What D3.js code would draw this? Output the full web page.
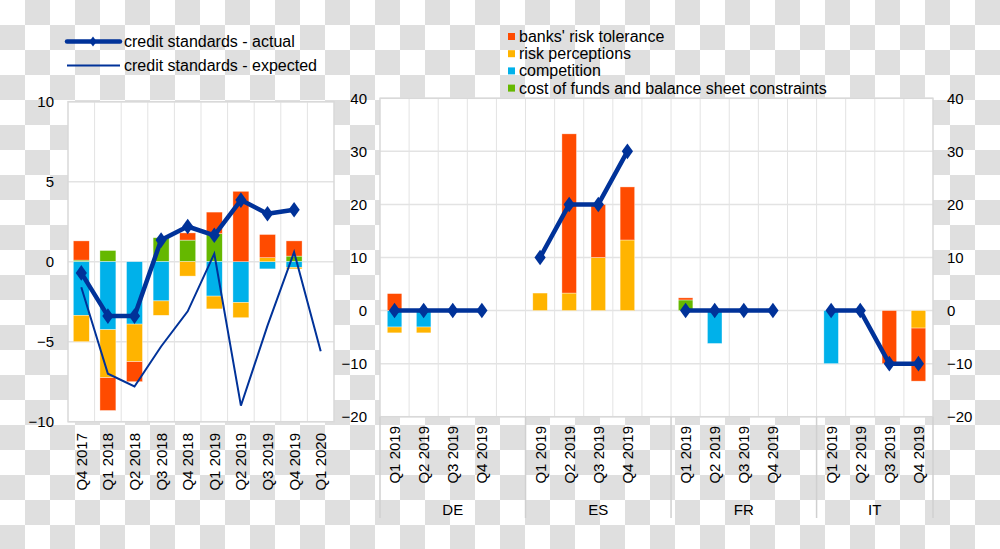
<!DOCTYPE html>
<html><head><meta charset="utf-8">
<script src="https://cdn.jsdelivr.net/npm/d3@7"></script>
<style>
html,body{margin:0;padding:0;background:#fff;}
svg{display:block;font-family:"Liberation Sans",Arial,sans-serif;}
</style></head>
<body>
<svg id="chart" width="1000" height="549"></svg>
<script>
// ---------- DATA ----------
const leftCategories = ["Q4 2017","Q1 2018","Q2 2018","Q3 2018","Q4 2018","Q1 2019","Q2 2019","Q3 2019","Q4 2019","Q1 2020"];
const leftRiskTolerance = [1.2, -2.05, -1.25, 0, 0.45, 1.35, 4.4, 1.45, 0.95, 0];
const leftRiskPerceptions = [-1.65, -3.0, -2.35, -0.9, -0.9, -0.8, -0.95, 0.25, -0.1, 0];
const leftCompetition = [-3.35, -4.25, -3.9, -2.45, 0, -2.15, -2.55, -0.45, -0.35, 0];
const leftCostOfFunds = [0.1, 0.7, 0, 1.5, 1.35, 1.75, 0, 0, 0.35, 0];
const leftActual = [-0.7, -3.4, -3.4, 1.35, 2.2, 1.65, 3.85, 3.0, 3.25, null];
const leftExpected = [-1.6, -7.0, -7.8, -5.3, -3.1, 0.5, -9.0, -4.0, 0.6, -5.6];
const leftTicks = [-10, -5, 0, 5, 10];

const countries = ["DE", "ES", "FR", "IT"];
const quarters = ["Q1 2019", "Q2 2019", "Q3 2019", "Q4 2019"];
// values ordered country by country, quarter by quarter
const rightRiskTolerance = [3.2, 0, 0, 0,   0, 30, 10, 10,   0.4, 0, 0, 0,   0, 0, -10, -10];
const rightRiskPerceptions = [-1.1, -1.1, 0, 0,   3.3, 3.3, 10, 13.3,   0, 0, 0, 0,   0, 0, 0, -3.3];
const rightCompetition = [-3.1, -3.1, 0, 0,   0, 0, 0, 0,   0, -6.2, 0, 0,   -10, 0, 0, 0];
const rightCostOfFunds = [0, 0, 0, 0,   0, 0, 0, 0,   2.0, 0, 0, 0,   0, 0, 0, 0];
const rightActual = [0, 0, 0, 0,   10, 20, 20, 30,   0, 0, 0, 0,   0, 0, -10, -10];
const rightTicks = [-20, -10, 0, 10, 20, 30, 40];

const seriesNames = ["banks' risk tolerance", "risk perceptions", "competition", "cost of funds and balance sheet constraints"];
const seriesColors = ["#FF4B00", "#FFB400", "#00B1EA", "#65B800"];
const lineNames = ["credit standards - actual", "credit standards - expected"];
const lineColor = "#003299";

// ---------- SETUP ----------
const svg = d3.select("#chart");
const W = 1000, H = 549;

// checkerboard backdrop (as in the reference image)
const defs = svg.append("defs");
const pat = defs.append("pattern").attr("id", "checker").attr("width", 50).attr("height", 50).attr("patternUnits", "userSpaceOnUse");
pat.append("rect").attr("width", 50).attr("height", 50).attr("fill", "#ffffff");
pat.append("rect").attr("x", 25).attr("y", 0).attr("width", 25).attr("height", 25).attr("fill", "#dfdfdf");
pat.append("rect").attr("x", 0).attr("y", 25).attr("width", 25).attr("height", 25).attr("fill", "#dfdfdf");
svg.append("rect").attr("width", W).attr("height", H).attr("fill", "url(#checker)");

const FS = 15;
const LFS = 16;
const gridColor = "#e3e3e3";
const borderColor = "#d9d9d9";
const keys = ["cost", "comp", "perc", "tol"];
const keyColor = {tol: seriesColors[0], perc: seriesColors[1], comp: seriesColors[2], cost: seriesColors[3]};

function stackRows(cats, tol, perc, comp, cost) {
  const rows = cats.map((c, i) => ({cat: c, tol: tol[i], perc: perc[i], comp: comp[i], cost: cost[i]}));
  return d3.stack().keys(keys).offset(d3.stackOffsetDiverging)(rows);
}

function diamond(g, x, y, s) {
  g.append("path").attr("d", d3.symbol(d3.symbolDiamond, s)()).attr("transform", `translate(${x},${y}) scale(1.25,1)`).attr("fill", lineColor);
}

// ---------- LEFT PANEL ----------
const L = {x0: 68, x1: 334, y0: 101.7, y1: 421.7};
const xL = d3.scaleBand().domain(leftCategories).range([L.x0, L.x1]).padding(0);
const yL = d3.scaleLinear().domain([-10, 10]).range([L.y1, L.y0]);
const gL = svg.append("g");
gL.append("rect").attr("x", L.x0).attr("y", L.y0).attr("width", L.x1 - L.x0).attr("height", L.y1 - L.y0).attr("fill", "#fff");
gL.selectAll(".vg").data(leftCategories.slice(1)).join("line")
  .attr("x1", d => xL(d)).attr("x2", d => xL(d)).attr("y1", L.y0).attr("y2", L.y1)
  .attr("stroke", gridColor).attr("stroke-width", 1);
gL.selectAll(".hg").data(leftTicks).join("line")
  .attr("x1", L.x0).attr("x2", L.x1).attr("y1", d => yL(d)).attr("y2", d => yL(d))
  .attr("stroke", gridColor).attr("stroke-width", 1.5);
gL.append("rect").attr("x", L.x0).attr("y", L.y0).attr("width", L.x1 - L.x0).attr("height", L.y1 - L.y0)
  .attr("fill", "none").attr("stroke", borderColor).attr("stroke-width", 1.5);

const axL = d3.axisLeft(yL).tickValues(leftTicks).tickSize(0).tickPadding(0).tickFormat(d3.format("d"));
const axLG = svg.append("g").attr("transform", `translate(54,0)`).call(axL);
axLG.select(".domain").remove();
axLG.selectAll("text").attr("font-size", FS).attr("fill", "#000").attr("font-family", "Liberation Sans, Arial, sans-serif");

const stL = stackRows(leftCategories, leftRiskTolerance, leftRiskPerceptions, leftCompetition, leftCostOfFunds);
const bwL = xL.bandwidth() * 0.6;
stL.forEach(s => {
  gL.append("g").selectAll("rect").data(s.filter(d => d[1] - d[0] !== 0)).join("rect")
    .attr("x", d => xL(d.data.cat) + (xL.bandwidth() - bwL) / 2)
    .attr("width", bwL)
    .attr("y", d => yL(Math.max(d[0], d[1])))
    .attr("height", d => Math.abs(yL(d[0]) - yL(d[1])))
    .attr("fill", keyColor[s.key]).attr("stroke", "#fff").attr("stroke-opacity", 0.6).attr("stroke-width", 0.6);
});

const cxL = d => xL(d) + xL.bandwidth() / 2;
gL.append("path").datum(leftCategories.map((c, i) => [c, leftExpected[i]]).filter(d => d[1] != null))
  .attr("d", d3.line().x(d => cxL(d[0])).y(d => yL(d[1])))
  .attr("fill", "none").attr("stroke", lineColor).attr("stroke-width", 2);
const actL = leftCategories.map((c, i) => [c, leftActual[i]]).filter(d => d[1] != null);
gL.append("path").datum(actL)
  .attr("d", d3.line().x(d => cxL(d[0])).y(d => yL(d[1])))
  .attr("fill", "none").attr("stroke", lineColor).attr("stroke-width", 4.5).attr("stroke-linejoin", "round");
actL.forEach(d => diamond(gL, cxL(d[0]), yL(d[1]), 70));

gL.selectAll(".cl").data(leftCategories).join("text")
  .attr("transform", d => `translate(${cxL(d)},433) rotate(-90)`)
  .attr("text-anchor", "end").attr("dominant-baseline", "central")
  .attr("font-size", FS).attr("fill", "#000").text(d => d);

// ---------- RIGHT PANEL ----------
const R = {x0: 380, x1: 933, y0: 98.3, y1: 416.7};
const slots = [];
countries.forEach((c, ci) => {
  quarters.forEach(q => slots.push(c + "|" + q));
  if (ci < countries.length - 1) slots.push("gap" + ci);
});
const xR = d3.scaleBand().domain(slots).range([R.x0, R.x1]).padding(0);
const yR = d3.scaleLinear().domain([-20, 40]).range([R.y1, R.y0]);
const gR = svg.append("g");
gR.append("rect").attr("x", R.x0).attr("y", R.y0).attr("width", R.x1 - R.x0).attr("height", R.y1 - R.y0).attr("fill", "#fff");
gR.selectAll(".vg").data(slots.slice(1)).join("line")
  .attr("x1", d => xR(d)).attr("x2", d => xR(d)).attr("y1", R.y0).attr("y2", R.y1)
  .attr("stroke", gridColor).attr("stroke-width", 1);
gR.selectAll(".hg").data(rightTicks).join("line")
  .attr("x1", R.x0).attr("x2", R.x1).attr("y1", d => yR(d)).attr("y2", d => yR(d))
  .attr("stroke", gridColor).attr("stroke-width", 1.5);
gR.append("rect").attr("x", R.x0).attr("y", R.y0).attr("width", R.x1 - R.x0).attr("height", R.y1 - R.y0)
  .attr("fill", "none").attr("stroke", borderColor).attr("stroke-width", 1.5);

const axRl = d3.axisLeft(yR).tickValues(rightTicks).tickSize(0).tickPadding(0).tickFormat(d3.format("d"));
const axRlG = svg.append("g").attr("transform", `translate(367,0)`).call(axRl);
axRlG.select(".domain").remove();
axRlG.selectAll("text").attr("font-size", FS).attr("fill", "#000").attr("font-family", "Liberation Sans, Arial, sans-serif");
const axRr = d3.axisRight(yR).tickValues(rightTicks).tickSize(0).tickPadding(0).tickFormat(d3.format("d"));
const axRrG = svg.append("g").attr("transform", `translate(947,0)`).call(axRr);
axRrG.select(".domain").remove();
axRrG.selectAll("text").attr("font-size", FS).attr("fill", "#000").attr("font-family", "Liberation Sans, Arial, sans-serif");

const dataSlots = [];
countries.forEach(c => quarters.forEach(q => dataSlots.push(c + "|" + q)));
const stR = stackRows(dataSlots, rightRiskTolerance, rightRiskPerceptions, rightCompetition, rightCostOfFunds);
const bwR = xR.bandwidth() * 0.5;
stR.forEach(s => {
  gR.append("g").selectAll("rect").data(s.filter(d => d[1] - d[0] !== 0)).join("rect")
    .attr("x", d => xR(d.data.cat) + (xR.bandwidth() - bwR) / 2)
    .attr("width", bwR)
    .attr("y", d => yR(Math.max(d[0], d[1])))
    .attr("height", d => Math.abs(yR(d[0]) - yR(d[1])))
    .attr("fill", keyColor[s.key]).attr("stroke", "#fff").attr("stroke-opacity", 0.6).attr("stroke-width", 0.6);
});

const cxR = d => xR(d) + xR.bandwidth() / 2;
countries.forEach((c, ci) => {
  const pts = quarters.map((q, qi) => [c + "|" + q, rightActual[ci * 4 + qi]]);
  gR.append("path").datum(pts)
    .attr("d", d3.line().x(d => cxR(d[0])).y(d => yR(d[1])))
    .attr("fill", "none").attr("stroke", lineColor).attr("stroke-width", 4.5).attr("stroke-linejoin", "round");
  pts.forEach(d => diamond(gR, cxR(d[0]), yR(d[1]), 70));
});

gR.selectAll(".cl").data(dataSlots).join("text")
  .attr("transform", d => `translate(${cxR(d)},426) rotate(-90)`)
  .attr("text-anchor", "end").attr("dominant-baseline", "central")
  .attr("font-size", FS).attr("fill", "#000").text(d => d.split("|")[1]);

const seps = [slots[0]].concat(countries.slice(1).map(c => c + "|" + quarters[0]));
const sepX = seps.map(s => xR(s)).concat([R.x1]);
gR.selectAll(".sep").data(sepX).join("line")
  .attr("x1", d => d).attr("x2", d => d).attr("y1", R.y1).attr("y2", 518)
  .attr("stroke", "#d0d0d0").attr("stroke-width", 1.5);
gR.selectAll(".gl").data(countries).join("text")
  .attr("x", (d, i) => (sepX[i] + sepX[i + 1]) / 2).attr("y", 509)
  .attr("dominant-baseline", "central")
  .attr("text-anchor", "middle").attr("font-size", FS).attr("fill", "#000").text(d => d);

// ---------- LEGENDS ----------
const lg1 = svg.append("g");
lineNames.forEach((n, i) => {
  const y = 41.5 + i * 24;
  lg1.append("line").attr("x1", 67).attr("x2", 120).attr("y1", y).attr("y2", y)
    .attr("stroke", lineColor).attr("stroke-width", i === 0 ? 4.5 : 2).attr("stroke-linecap", i === 0 ? "round" : "butt");
  if (i === 0) diamond(lg1, 93, y, 30);
  lg1.append("text").attr("x", 124).attr("y", y).attr("dominant-baseline", "central")
    .attr("font-size", LFS).attr("fill", "#000").text(n);
});
const lg2 = svg.append("g");
seriesNames.forEach((n, i) => {
  const y = 36.5 + i * 17.2;
  lg2.append("rect").attr("x", 508).attr("y", y - 3.5).attr("width", 7).attr("height", 7).attr("fill", seriesColors[i]);
  lg2.append("text").attr("x", 519).attr("y", y).attr("dominant-baseline", "central")
    .attr("font-size", LFS).attr("fill", "#000").text(n);
});
</script>
</body></html>
